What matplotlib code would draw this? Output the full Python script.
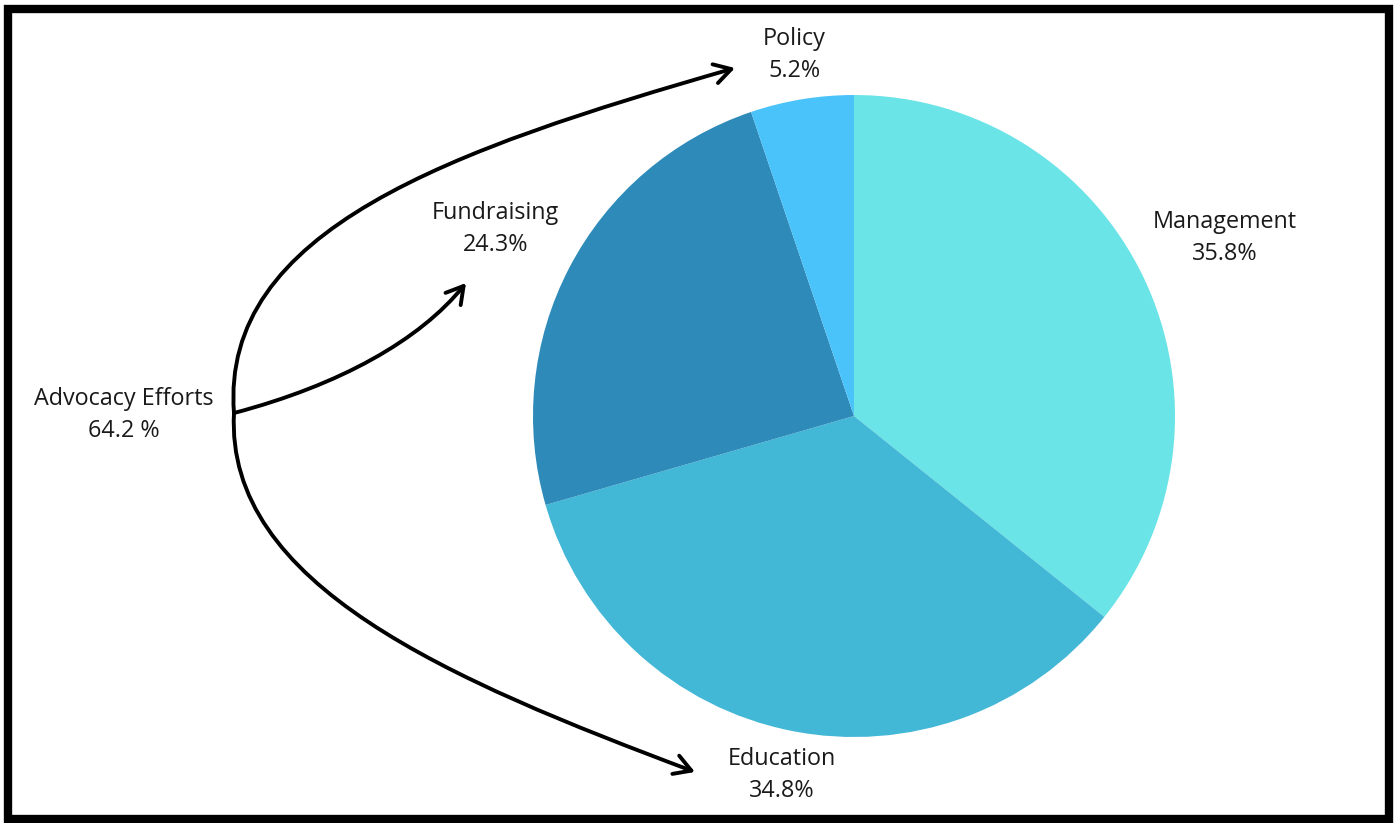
import numpy as np
import matplotlib
matplotlib.use("Agg")
import matplotlib.pyplot as plt
from matplotlib.patches import FancyArrowPatch, Rectangle
from matplotlib.path import Path

categories = ["Management", "Education", "Fundraising", "Policy"]
values = [35.8, 34.8, 24.3, 5.2]
colors = ["#6be4e8", "#43b7d6", "#2e8bb9", "#4ac3fa"]
label_dist = [1.28, 1.14, 1.26, 1.14]
group_label = "Advocacy Efforts"
group_value = 64.2

W, H = 1398, 823
fig = plt.figure(figsize=(W / 100, H / 100), dpi=100)
ax = fig.add_axes([0, 0, 1, 1])

plt.rcParams["font.family"] = ["Open Sans", "DejaVu Sans"]
txt_kw = dict(fontsize=16.8, color="#1a1a1a", ha="center", va="center",
              linespacing=1.45, family=["Open Sans", "DejaVu Sans"])

# Pie in pixel space (y axis points down, so angles are mirrored)
cx, cy, r = 854, 416, 321
wedges, _ = ax.pie(values, colors=colors, startangle=-90, counterclock=True,
                   center=(cx, cy), radius=r, frame=True,
                   wedgeprops=dict(linewidth=0))
ax.set_xlim(0, W)
ax.set_ylim(H, 0)
ax.set_aspect("equal")
ax.axis("off")

total = sum(values)
start = 90.0
for name, v, d in zip(categories, values, label_dist):
    mid = np.deg2rad(start - v / total * 360 / 2)
    start -= v / total * 360
    lx = cx + d * r * np.cos(mid)
    ly = cy - d * r * np.sin(mid)
    ax.text(lx, ly, f"{name}\n{v}%", **txt_kw)

ax.text(124, 415, f"{group_label}\n{group_value} %", **txt_kw)

# Curved arrows from the group label to its member slices
origin = (234, 413)
curves = [
    [origin, (220, 230), (450, 150), (735, 68)],
    [origin, (340, 385), (420, 340), (466, 283)],
    [origin, (225, 585), (450, 680), (695, 772)],
]
for pts in curves:
    path = Path(pts, [Path.MOVETO, Path.CURVE4, Path.CURVE4, Path.CURVE4])
    arr = FancyArrowPatch(path=path, arrowstyle="->,head_length=0.6,head_width=0.35",
                          mutation_scale=20, lw=2.8, color="black",
                          capstyle="round", joinstyle="round")
    ax.add_patch(arr)

# Frame around the whole chart
ax.add_patch(Rectangle((8, 9), W - 17, H - 13, fill=False, lw=6,
                       edgecolor="black", clip_on=False))

fig.savefig("out.png", dpi=100)
